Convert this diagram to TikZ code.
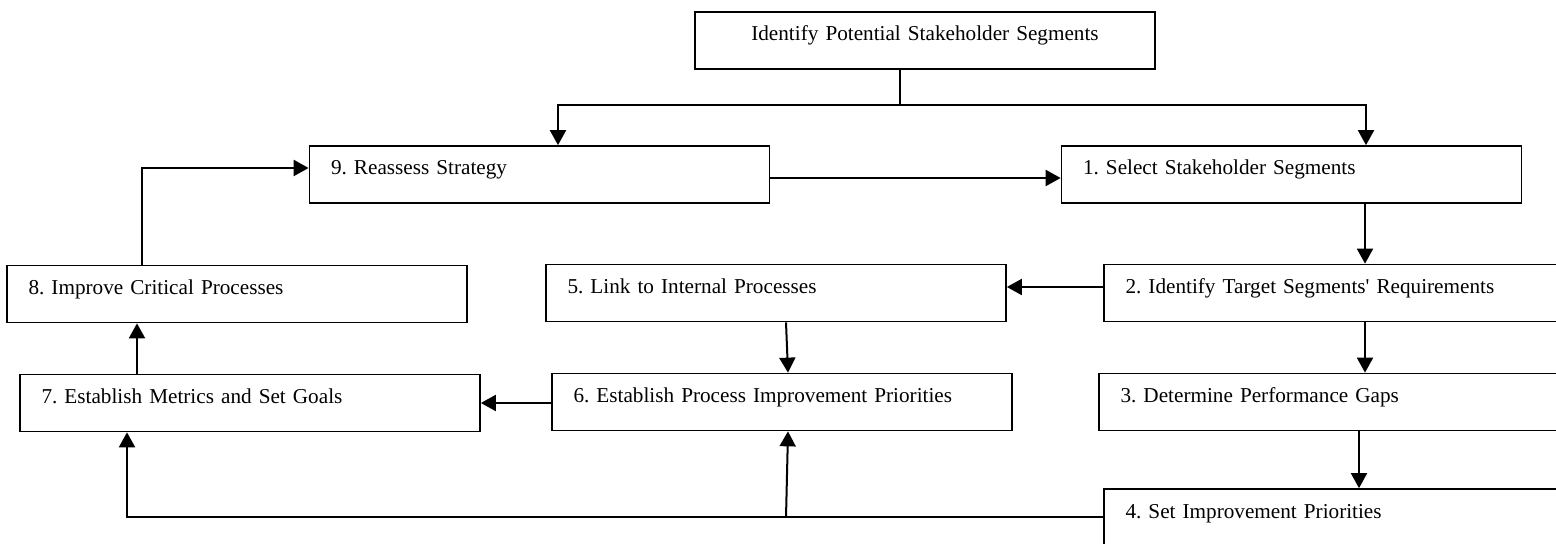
\documentclass[tikz,border=0pt]{standalone}
\usepackage{fontspec}
\setmainfont{Liberation Serif}
\usetikzlibrary{arrows.meta}
\frenchspacing

\begin{document}
\begin{tikzpicture}[x=0.5pt, y=-0.5pt,
  font=\fontsize{10.6}{12.7}\selectfont,
  stage/.style={draw, line width=0.85pt, inner xsep=10.75pt, inner ysep=0pt,
                text width=208.5pt, text height=14.5pt, text depth=14pt, align=#1},
  stage/.default=left,
  flow/.style={line width=1pt, -{Triangle[length=7.5pt,width=8pt]}},
  link/.style={line width=1pt}
]
  \useasboundingbox (0,0) rectangle (1556,544);
  \clip (0,0) rectangle (1556,544);

  \node[stage=center] (pool) at (925,40.5)  {Identify Potential Stakeholder Segments};
  \node[stage] (s9) at (539.5,174.5)  {9. Reassess Strategy};
  \node[stage] (s1) at (1291.5,174.5) {1. Select Stakeholder Segments};
  \node[stage] (s8) at (237,294)      {8. Improve Critical Processes};
  \node[stage] (s5) at (776,293)      {5. Link to Internal Processes};
  \node[stage] (s2) at (1334,293)     {2. Identify Target Segments\textquotesingle{} Requirements};
  \node[stage] (s7) at (250,403)      {7. Establish Metrics and Set Goals};
  \node[stage] (s6) at (782,402)      {6. Establish Process Improvement Priorities};
  \node[stage] (s3) at (1329,402)     {3. Determine Performance Gaps};
  \node[stage] (s4) at (1334,517.5)   {4. Set Improvement Priorities};

  \coordinate (fork) at (900,105);
  \draw[link] (fork |- pool.south) -- (fork);
  \draw[flow] (fork) -| ([xshift=9.25pt]s9.north);
  \draw[flow] (fork) -| ([xshift=37.25pt]s1.north);
  \draw[flow] ([yshift=-1.75pt]s9.east) -- ([yshift=-1.75pt]s1.west);

  \draw[flow] ([xshift=36.75pt]s1.south) -- ([xshift=36.75pt]s1.south |- s2.north);
  \draw[flow] ([xshift=15.5pt]s2.south) -- ([xshift=15.5pt]s2.south |- s3.north);
  \draw[flow] ([xshift=15pt]s3.south) -- ([xshift=15pt]s3.south |- s4.north);
  \draw[flow] ([yshift=3pt]s2.west) -- ([yshift=3pt]s5.east);
  \draw[flow] ([xshift=5pt]s5.south) -- ([xshift=3pt]s6.north);
  \draw[flow] ([yshift=-0.5pt]s6.west) -- ([yshift=-0.5pt]s6.west -| s7.east);
  \draw[flow] ([yshift=0.5pt]s4.west) -| ([xshift=-61.5pt]s7.south);
  \draw[flow] ([xshift=2pt]s6.south |- s4.west) -- ([xshift=3pt]s6.south);
  \draw[flow] ([xshift=-56.5pt]s7.north) -- ([xshift=-56.5pt]s7.north |- s8.south);
  \draw[flow] ([xshift=-47.5pt]s8.north) |- ([yshift=3.25pt]s9.west);
\end{tikzpicture}
\end{document}
